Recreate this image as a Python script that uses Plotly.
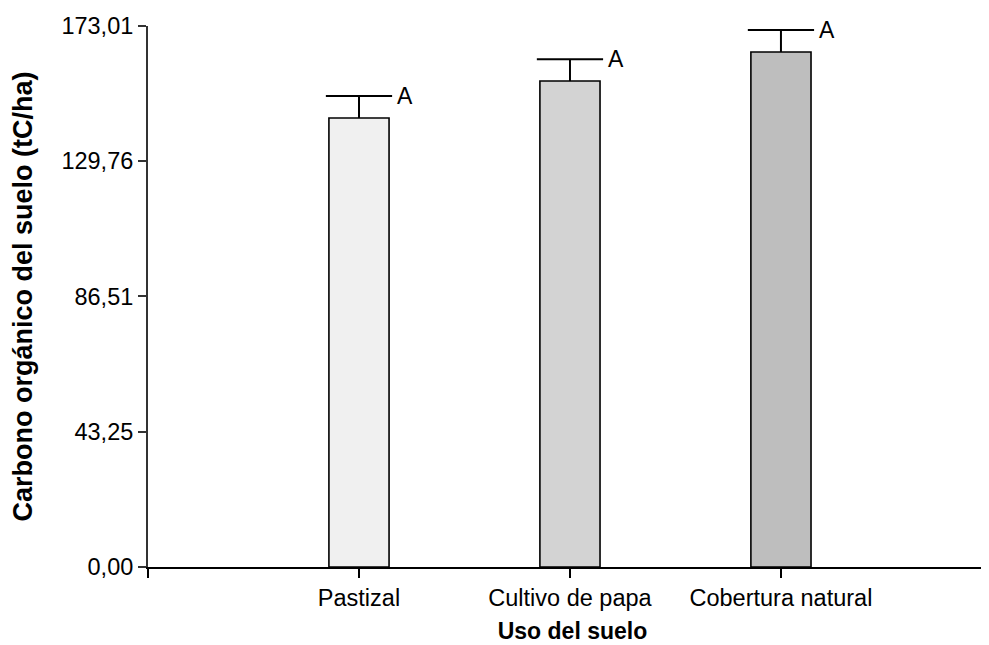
import plotly.graph_objects as go

categories = ["Pastizal", "Cultivo de papa", "Cobertura natural"]
means = [143.6, 155.4, 164.7]
errors = [7.0, 7.0, 7.0]
letters = ["A", "A", "A"]
bar_colors = ["#f0f0f0", "#d3d3d3", "#bebebe"]
y_tickvals = [0.0, 43.25, 86.51, 129.76, 173.01]
y_ticktext = ["0,00", "43,25", "86,51", "129,76", "173,01"]

positions = [i + 1 for i in range(len(categories))]
FONT = "Liberation Sans, Arial, sans-serif"

fig = go.Figure()
fig.add_trace(go.Bar(
    x=positions, y=means, width=0.285,
    marker=dict(color=bar_colors, line=dict(color="black", width=1.6)),
    showlegend=False, hoverinfo="skip",
))

cap = 0.157
ex, ey = [], []
for p, m, e in zip(positions, means, errors):
    ex += [p, p, None, p - cap, p + cap, None]
    ey += [m, m + e, None, m + e, m + e, None]
fig.add_trace(go.Scatter(x=ex, y=ey, mode="lines",
                         line=dict(color="black", width=2),
                         showlegend=False, hoverinfo="skip"))

for p, m, e, l in zip(positions, means, errors, letters):
    fig.add_annotation(x=p + 0.17, y=m + e, text=l, showarrow=False,
                       xanchor="left", yanchor="middle",
                       font=dict(family=FONT, size=23, color="black"))

fig.update_layout(
    width=989, height=645,
    margin=dict(l=140, r=0, t=18, b=86),
    plot_bgcolor="white", paper_bgcolor="white",
    font=dict(family=FONT, size=23, color="black"),
    xaxis=dict(
        range=[0, 4.024], tickvals=[0] + positions, ticktext=[""] + categories,
        ticks="outside", ticklen=9, tickwidth=2, tickcolor="black",
        showline=True, linecolor="black", linewidth=2, showgrid=False,
        zeroline=False, tickfont=dict(size=23.5),
        title=dict(text="<b>Uso del suelo</b>", font=dict(size=23), standoff=13),
    ),
    yaxis=dict(
        range=[0, 173.01], tickvals=y_tickvals, ticktext=y_ticktext,
        ticks="outside", ticklen=8, tickwidth=2, tickcolor="#333333",
        showline=True, linecolor="#333333", linewidth=2, showgrid=False,
        zeroline=False, tickfont=dict(size=23.5),
        title=dict(text="<b>Carbono orgánico del suelo (tC/ha)</b>", font=dict(size=27), standoff=25),
    ),
)

fig.write_html("out.html")
